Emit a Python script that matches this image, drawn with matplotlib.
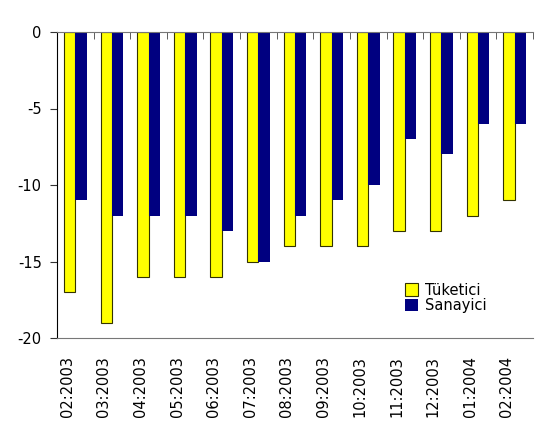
"""Tuketici vs Sanayici confidence bars, 02:2003 - 02:2004."""

import matplotlib
matplotlib.use("Agg")
import matplotlib.pyplot as plt
import numpy as np

months = ["02:2003", "03:2003", "04:2003", "05:2003", "06:2003", "07:2003",
          "08:2003", "09:2003", "10:2003", "11:2003", "12:2003", "01:2004",
          "02:2004"]
tuketici = [-17, -19, -16, -16, -16, -15, -14, -14, -14, -13, -13, -12, -11]
sanayici = [-11, -12, -12, -12, -13, -15, -12, -11, -10, -7, -8, -6, -6]

plt.rcParams['font.family'] = ['DejaVu Sans']

fig = plt.figure(figsize=(5.35, 4.24), dpi=100)
ax = fig.add_axes([57 / 535, 1 - 338 / 424, 476 / 535, 306 / 424])

x = np.arange(len(months))
w = 0.31
ax.bar(x - w / 2, tuketici, w, color='#ffff00', edgecolor='#333300',
       linewidth=0.8, label='Tüketici')
ax.bar(x + w / 2, sanayici, w, color='#000080', linewidth=0,
       label='Sanayici')

ax.set_xlim(-0.5, len(months) - 0.5)
ax.set_ylim(-20, 0)
ax.set_yticks([0, -5, -10, -15, -20])
ax.set_yticklabels(['0', '-5', '-10', '-15', '-20'], fontsize=10.5)

ax.set_xticks(x - 0.22)
ax.set_xticklabels(months, rotation=90, fontsize=10.5)
ax.tick_params(axis='x', length=0, pad=13)
ax.set_xticks(np.arange(-0.5, len(months)), minor=True)
ax.tick_params(axis='x', which='minor', top=True, bottom=False,
               direction='in', length=5, color='#444444')
ax.tick_params(axis='y', direction='out', length=5, color='#333333', pad=6)

ax.spines['right'].set_visible(False)
ax.spines['top'].set_color('#777777')
ax.spines['bottom'].set_color('#777777')
ax.spines['left'].set_color('#000000')

ax.legend(loc='upper left', bbox_to_anchor=(0.715, 0.205), frameon=False,
          fontsize=10.5, handlelength=0.9, handleheight=0.9,
          handletextpad=0.5, labelspacing=0.05, borderpad=0)

fig.savefig('out.png', dpi=100)
